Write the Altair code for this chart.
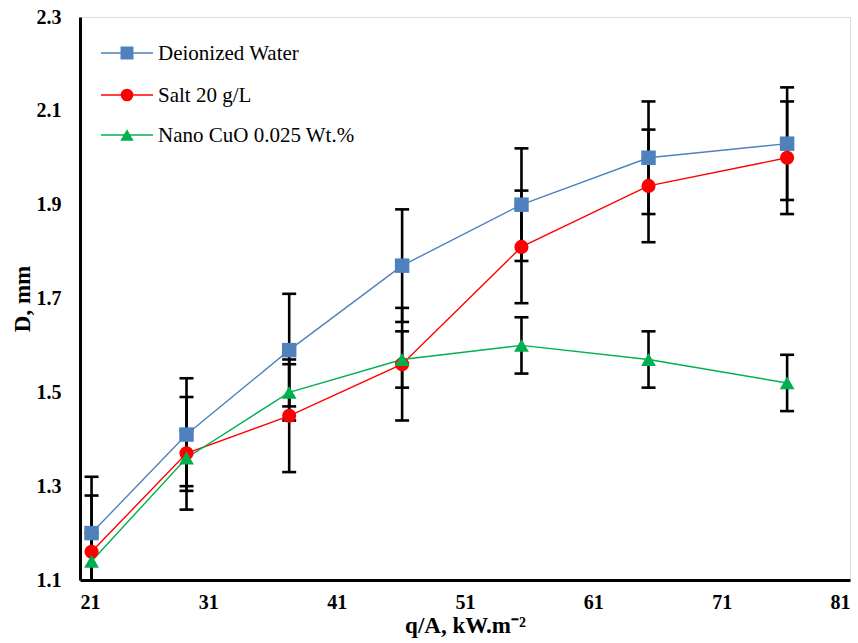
import altair as alt
import pandas as pd

series_names = ["Deionized Water", "Salt 20 g/L", "Nano CuO 0.025 Wt.%"]
colors = ["#4F81BD", "#FF0000", "#00B050"]
shapes = ["square", "circle", "triangle-up"]
sizes = [210, 200, 220]

x_vals = [21.9, 29.3, 37.3, 46.1, 55.4, 65.3, 76.1]
y_water = [1.20, 1.41, 1.59, 1.77, 1.90, 2.00, 2.03]
y_salt = [1.16, 1.37, 1.45, 1.56, 1.81, 1.94, 2.00]
y_cuo = [1.14, 1.36, 1.50, 1.57, 1.60, 1.57, 1.52]
err_water = [0.12] * 7
err_salt = [0.12] * 7
err_cuo = [0.06] * 7

x_ticks = [21, 31, 41, 51, 61, 71, 81]
y_ticks = [1.1, 1.3, 1.5, 1.7, 1.9, 2.1, 2.3]

rows = []
for name, ys, es in zip(series_names, [y_water, y_salt, y_cuo], [err_water, err_salt, err_cuo]):
    for xv, yv, ev in zip(x_vals, ys, es):
        rows.append({"series": name, "x": xv, "y": yv, "lo": yv - ev, "hi": yv + ev})
df = pd.DataFrame(rows)

FONT = "Liberation Serif"
W, H = 770, 563

xs = alt.Scale(domain=[21, 81], nice=False, zero=False)
ys_ = alt.Scale(domain=[1.1, 2.3], nice=False, zero=False)
cs = alt.Scale(domain=series_names, range=colors)

x_enc = alt.X("x:Q", scale=xs, axis=alt.Axis(
    values=x_ticks, title="q/A, kW.m\u207b\u00b2", grid=False, tickSize=0,
    labelFont=FONT, labelFontSize=20, labelFontWeight="bold", labelColor="black",
    labelPadding=12, titleFont=FONT, titleFontSize=23, titleFontWeight="bold",
    titleColor="black", titlePadding=2, domainColor="black", domainWidth=3, format="d"))
y_enc = alt.Y("y:Q", scale=ys_, axis=alt.Axis(
    values=y_ticks, title="D, mm", grid=False, tickSize=0,
    labelFont=FONT, labelFontSize=20, labelFontWeight="bold", labelColor="black",
    labelPadding=19, titleFont=FONT, titleFontSize=23, titleFontWeight="bold",
    titleColor="black", titlePadding=2, domainColor="black", domainWidth=3, format=".1f"))

base = alt.Chart(df)

lines = base.mark_line(strokeWidth=1.4, clip=True).encode(
    x=x_enc, y=y_enc,
    color=alt.Color("series:N", scale=cs, legend=None),
    detail="series:N",
)

err_rule = base.mark_rule(color="black", strokeWidth=2.6, clip=True).encode(
    x=alt.X("x:Q", scale=xs), y=alt.Y("lo:Q", scale=ys_), y2="hi:Q")
cap_hi = base.mark_rule(color="black", strokeWidth=2.6, xOffset=-7, x2Offset=7, clip=True).encode(
    x=alt.X("x:Q", scale=xs), x2="x:Q", y=alt.Y("hi:Q", scale=ys_))
cap_lo = base.mark_rule(color="black", strokeWidth=2.6, xOffset=-7, x2Offset=7, clip=True).encode(
    x=alt.X("x:Q", scale=xs), x2="x:Q", y=alt.Y("lo:Q", scale=ys_))

point_layers = []
for name, col, shp, sz in zip(series_names, colors, shapes, sizes):
    point_layers.append(
        alt.Chart(df[df.series == name]).mark_point(
            filled=True, opacity=1, color=col, shape=shp, size=sz, clip=True
        ).encode(x=alt.X("x:Q", scale=xs), y=alt.Y("y:Q", scale=ys_))
    )

legend_layers = []
leg_y = [36, 78, 118]
for name, col, shp, sz, ly in zip(series_names, colors, shapes, sizes, leg_y):
    legend_layers.append(alt.Chart(df.head(1)).mark_rule(color=col, strokeWidth=1.4).encode(
        x=alt.value(21), x2=alt.value(73), y=alt.value(ly)))
    legend_layers.append(alt.Chart(df.head(1)).mark_point(
        filled=True, opacity=1, color=col, shape=shp, size=sz * 0.8).encode(
        x=alt.value(47), y=alt.value(ly)))
    legend_layers.append(alt.Chart(df.head(1)).mark_text(
        text=name, font=FONT, fontSize=21, align="left", baseline="middle", color="black").encode(
        x=alt.value(78), y=alt.value(ly + 1)))

chart = alt.layer(lines, err_rule, cap_hi, cap_lo, *point_layers, *legend_layers).properties(
    width=W, height=H,
    padding={"left": 80, "top": 17, "right": 8, "bottom": 63},
    autosize=alt.AutoSizeParams(type="none"),
).configure_view(stroke="black", strokeWidth=1.5).configure(background="white")

chart.save("out.html", embed_options={"renderer": "svg", "actions": False})
